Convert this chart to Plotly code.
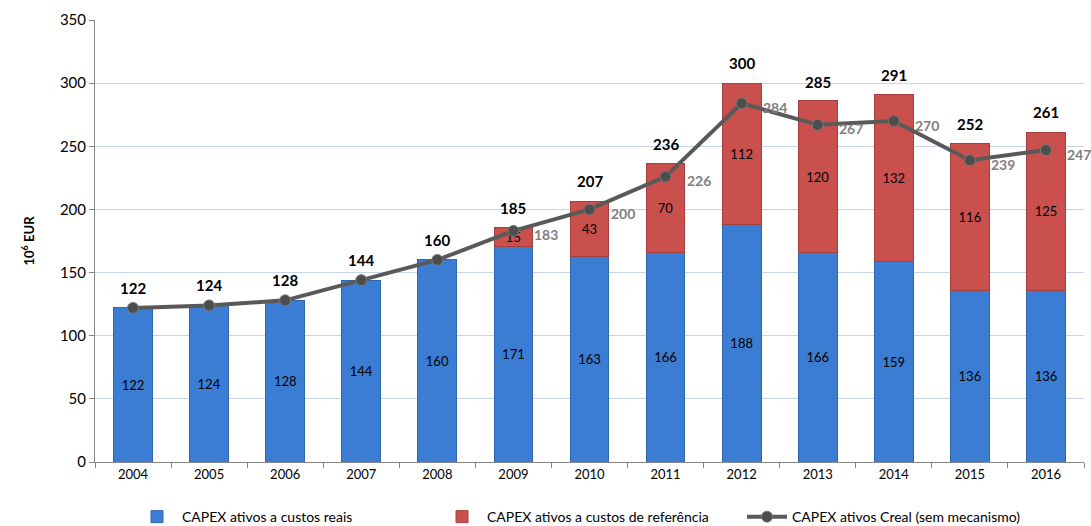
import plotly.graph_objects as go

years = ["2004", "2005", "2006", "2007", "2008", "2009", "2010",
         "2011", "2012", "2013", "2014", "2015", "2016"]
capex_reais = [122, 124, 128, 144, 160, 171, 163, 166, 188, 166, 159, 136, 136]
capex_referencia = [None, None, None, None, None, 15, 43, 70, 112, 120, 132, 116, 125]
capex_total = [122, 124, 128, 144, 160, 185, 207, 236, 300, 285, 291, 252, 261]
capex_creal = [122, 124, 128, 144, 160, 183, 200, 226, 284, 267, 270, 239, 247]

FONT = "Lato"
BLUE = "#3b7dd3"
RED = "#c9504c"
LINE = "#595959"

fig = go.Figure()

fig.add_trace(go.Bar(
    x=years, y=capex_reais, name="CAPEX ativos a custos reais",
    marker=dict(color=BLUE, line=dict(color="#2f66ad", width=1)),
    text=capex_reais, textposition="inside", insidetextanchor="middle",
    textangle=0, constraintext="none",
    textfont=dict(color="black", size=13, family=FONT),
    width=0.51,
))
fig.add_trace(go.Bar(
    x=years, y=capex_referencia, name="CAPEX ativos a custos de referência",
    marker=dict(color=RED, line=dict(color="#a33f3c", width=1)),
    text=capex_referencia, textposition="inside", insidetextanchor="middle",
    textangle=0, constraintext="none",
    textfont=dict(color="black", size=13, family=FONT),
    width=0.51,
))
fig.add_trace(go.Scatter(
    x=years, y=capex_creal, name="CAPEX ativos Creal (sem mecanismo)",
    mode="lines+markers",
    line=dict(color=LINE, width=4),
    marker=dict(size=11, color="#4d4d4d", line=dict(color="#7a7a7a", width=1)),
))

annotations = []
# totals above each stacked bar (x given as category index)
for i, tot in enumerate(capex_total):
    annotations.append(dict(
        x=i, y=tot, text=f"<b>{tot}</b>", showarrow=False,
        yshift=20, font=dict(size=15, color="black", family=FONT),
    ))
# Creal values where they differ from the bar total
for i, (cr, tot) in enumerate(zip(capex_creal, capex_total)):
    if cr != tot:
        annotations.append(dict(
            x=i, y=cr, text=f"<b>{cr}</b>", showarrow=False,
            xanchor="left", xshift=19, yshift=-4,
            font=dict(size=14, color="#7f7f7f", family=FONT),
        ))

fig.update_layout(
    barmode="stack",
    width=1091, height=526,
    margin=dict(l=95, r=7, t=20, b=64),
    paper_bgcolor="white", plot_bgcolor="white",
    font=dict(family=FONT, size=13, color="black"),
    uniformtext=dict(minsize=13, mode="show"),
    annotations=annotations,
    showlegend=True,
    legend=dict(orientation="h", x=0.5, xanchor="center",
                yref="container", y=0.017, yanchor="middle",
                font=dict(size=14, family=FONT), itemwidth=40,
                entrywidth=250, traceorder="normal"),
    xaxis=dict(
        type="category", tickson="boundaries", ticks="outside", ticklen=5,
        tickcolor="#868686", showline=True, linecolor="#868686",
        showgrid=False, tickfont=dict(size=13),
        range=[-0.5, len(years) - 0.5],
    ),
    yaxis=dict(
        range=[0, 350], dtick=50, ticks="outside", ticklen=5,
        tickcolor="#868686", showline=True, linecolor="#868686",
        gridcolor="#c5d5ea", gridwidth=1, zeroline=False,
        tickfont=dict(size=15),
        title=dict(text="<b>10<sup>6</sup> EUR</b>", font=dict(size=13), standoff=22),
    ),
)

fig.write_html("out.html")
